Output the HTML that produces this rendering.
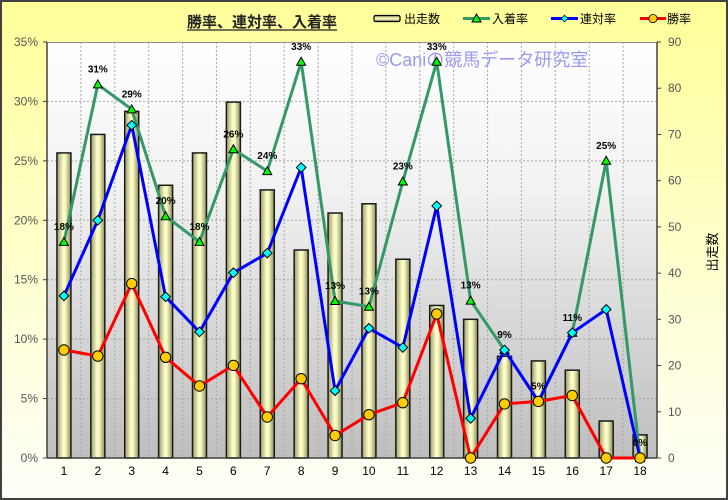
<!DOCTYPE html>
<html><head><meta charset="utf-8"><style>
html,body{margin:0;padding:0;width:728px;height:500px;overflow:hidden;background:#fff}
svg{display:block}
text{font-family:"Liberation Sans","Noto Sans CJK JP",sans-serif}
</style></head><body>
<svg width="728" height="500" viewBox="0 0 728 500" xmlns="http://www.w3.org/2000/svg">
<defs>
<linearGradient id="bg" x1="0" y1="0" x2="0" y2="1">
<stop offset="0" stop-color="#FFFF99"/><stop offset="0.55" stop-color="#FFFFD0"/><stop offset="1" stop-color="#FFFFFA"/>
</linearGradient>
<linearGradient id="pa" x1="0" y1="0" x2="0" y2="1">
<stop offset="0" stop-color="#FFFFFF"/><stop offset="0.35" stop-color="#F2F2F2"/><stop offset="1" stop-color="#BEBEBE"/>
</linearGradient>
<linearGradient id="bar" x1="0" y1="0" x2="1" y2="0">
<stop offset="0" stop-color="#9A9A68"/><stop offset="0.45" stop-color="#FFFFCC"/><stop offset="0.6" stop-color="#F8F8C0"/><stop offset="1" stop-color="#8C8C5A"/>
</linearGradient>
<linearGradient id="barL" x1="0" y1="0" x2="0" y2="1">
<stop offset="0" stop-color="#9A9A68"/><stop offset="0.5" stop-color="#FFFFCC"/><stop offset="1" stop-color="#8C8C5A"/>
</linearGradient>
<path id="tri" d="M0,-4.5 L4.5,3.5 L-4.5,3.5 Z" fill="#00FF00" stroke="#000" stroke-width="1"/>
<path id="dia" d="M0,-4.8 L4.8,0 L0,4.8 L-4.8,0 Z" fill="#00FFFF" stroke="#000" stroke-width="1"/>
<circle id="cir" r="5.2" fill="#FFCC00" stroke="#000" stroke-width="1"/>
</defs>
<rect x="0" y="0" width="728" height="500" fill="url(#bg)"/>
<rect x="1" y="1" width="726" height="498" fill="none" stroke="#404040" stroke-width="2"/>

<!-- title -->
<text x="262" y="27" font-size="15" font-weight="bold" fill="#222" text-anchor="middle">勝率、連対率、入着率</text>
<line x1="187" y1="30" x2="337" y2="30" stroke="#222" stroke-width="1.3"/>

<!-- legend -->
<rect x="374" y="15.5" width="26" height="6" rx="1.5" fill="url(#barL)" stroke="#000" stroke-width="1.2"/>
<text x="404" y="23" font-size="12" fill="#000">出走数</text>
<line x1="463" y1="18.5" x2="490" y2="18.5" stroke="#339966" stroke-width="3"/>
<use href="#tri" x="476.5" y="18.5"/>
<text x="492" y="23" font-size="12" fill="#000">入着率</text>
<line x1="551" y1="18.5" x2="578" y2="18.5" stroke="#0000FF" stroke-width="3"/>
<use href="#dia" x="564.5" y="18.5" transform="translate(564.5,18.5) scale(0.7) translate(-564.5,-18.5)"/>
<text x="580" y="23" font-size="12" fill="#000">連対率</text>
<line x1="640" y1="18.5" x2="666" y2="18.5" stroke="#FF0000" stroke-width="3"/>
<use href="#cir" x="653" y="18.5" transform="translate(653,18.5) scale(0.8) translate(-653,-18.5)"/>
<text x="667" y="23" font-size="12" fill="#000">勝率</text>

<!-- plot area -->
<rect x="47" y="42" width="610" height="416" fill="url(#pa)"/>
<g stroke="#A8A8A8" stroke-width="1" stroke-dasharray="2,2" fill="none">
<line x1="47" y1="101.43" x2="657" y2="101.43"/>
<line x1="47" y1="160.86" x2="657" y2="160.86"/>
<line x1="47" y1="220.29" x2="657" y2="220.29"/>
<line x1="47" y1="279.71" x2="657" y2="279.71"/>
<line x1="47" y1="339.14" x2="657" y2="339.14"/>
<line x1="47" y1="398.57" x2="657" y2="398.57"/>
<line x1="80.89" y1="42" x2="80.89" y2="458"/>
<line x1="114.78" y1="42" x2="114.78" y2="458"/>
<line x1="148.67" y1="42" x2="148.67" y2="458"/>
<line x1="182.56" y1="42" x2="182.56" y2="458"/>
<line x1="216.44" y1="42" x2="216.44" y2="458"/>
<line x1="250.33" y1="42" x2="250.33" y2="458"/>
<line x1="284.22" y1="42" x2="284.22" y2="458"/>
<line x1="318.11" y1="42" x2="318.11" y2="458"/>
<line x1="352" y1="42" x2="352" y2="458"/>
<line x1="385.89" y1="42" x2="385.89" y2="458"/>
<line x1="419.78" y1="42" x2="419.78" y2="458"/>
<line x1="453.67" y1="42" x2="453.67" y2="458"/>
<line x1="487.56" y1="42" x2="487.56" y2="458"/>
<line x1="521.44" y1="42" x2="521.44" y2="458"/>
<line x1="555.33" y1="42" x2="555.33" y2="458"/>
<line x1="589.22" y1="42" x2="589.22" y2="458"/>
<line x1="623.11" y1="42" x2="623.11" y2="458"/>
</g>
<line x1="47" y1="42.5" x2="657" y2="42.5" stroke="#909090" stroke-width="1"/>

<!-- bars -->
<g fill="url(#bar)" stroke="#1a1a1a" stroke-width="1.5">
<rect x="56.94" y="152.93" width="14" height="305.07"/>
<rect x="90.83" y="134.44" width="14" height="323.56"/>
<rect x="124.72" y="111.33" width="14" height="346.67"/>
<rect x="158.61" y="185.29" width="14" height="272.71"/>
<rect x="192.5" y="152.93" width="14" height="305.07"/>
<rect x="226.39" y="102.09" width="14" height="355.91"/>
<rect x="260.28" y="189.91" width="14" height="268.09"/>
<rect x="294.17" y="250" width="14" height="208"/>
<rect x="328.06" y="213.02" width="14" height="244.98"/>
<rect x="361.94" y="203.78" width="14" height="254.22"/>
<rect x="395.83" y="259.24" width="14" height="198.76"/>
<rect x="429.72" y="305.47" width="14" height="152.53"/>
<rect x="463.61" y="319.33" width="14" height="138.67"/>
<rect x="497.5" y="356.31" width="14" height="101.69"/>
<rect x="531.39" y="360.93" width="14" height="97.07"/>
<rect x="565.28" y="370.18" width="14" height="87.82"/>
<rect x="599.17" y="421.02" width="14" height="36.98"/>
<rect x="633.06" y="434.89" width="14" height="23.11"/>
</g>

<!-- watermark -->
<text x="376" y="66" font-size="18" fill="#9A9AF5">©Caniの競馬データ研究室</text>

<!-- axes -->
<line x1="47" y1="42" x2="47" y2="458" stroke="#404040" stroke-width="1.5"/>
<line x1="657" y1="42" x2="657" y2="458" stroke="#404040" stroke-width="1.5"/>
<line x1="47" y1="458" x2="657" y2="458" stroke="#404040" stroke-width="1.5"/>
<g stroke="#404040" stroke-width="1">
<line x1="43" y1="42" x2="47" y2="42"/><line x1="43" y1="101.43" x2="47" y2="101.43"/><line x1="43" y1="160.86" x2="47" y2="160.86"/><line x1="43" y1="220.29" x2="47" y2="220.29"/><line x1="43" y1="279.71" x2="47" y2="279.71"/><line x1="43" y1="339.14" x2="47" y2="339.14"/><line x1="43" y1="398.57" x2="47" y2="398.57"/><line x1="43" y1="458" x2="47" y2="458"/>
<line x1="657" y1="42" x2="661" y2="42"/><line x1="657" y1="88.22" x2="661" y2="88.22"/><line x1="657" y1="134.44" x2="661" y2="134.44"/><line x1="657" y1="180.67" x2="661" y2="180.67"/><line x1="657" y1="226.89" x2="661" y2="226.89"/><line x1="657" y1="273.11" x2="661" y2="273.11"/><line x1="657" y1="319.33" x2="661" y2="319.33"/><line x1="657" y1="365.56" x2="661" y2="365.56"/><line x1="657" y1="411.78" x2="661" y2="411.78"/><line x1="657" y1="458" x2="661" y2="458"/>
</g>

<!-- series lines -->
<polyline fill="none" stroke="#339966" stroke-width="3" stroke-linejoin="round" points="63.94,241.9 97.83,84.4 131.72,109.4 165.61,216.2 199.5,241.9 233.39,149.3 267.28,171.1 301.17,61.8 335.06,301.0 368.94,306.7 402.83,181.5 436.72,61.8 470.61,300.6 504.5,350.0 538.39,401.4 572.28,332.8 606.17,160.8 640.06,458"/>
<g>
<use href="#tri" x="63.94" y="241.9"/><use href="#tri" x="97.83" y="84.4"/><use href="#tri" x="131.72" y="109.4"/><use href="#tri" x="165.61" y="216.2"/><use href="#tri" x="199.5" y="241.9"/><use href="#tri" x="233.39" y="149.3"/><use href="#tri" x="267.28" y="171.1"/><use href="#tri" x="301.17" y="61.8"/><use href="#tri" x="335.06" y="301.0"/><use href="#tri" x="368.94" y="306.7"/><use href="#tri" x="402.83" y="181.5"/><use href="#tri" x="436.72" y="61.8"/><use href="#tri" x="470.61" y="300.6"/><use href="#tri" x="504.5" y="350.0"/><use href="#tri" x="538.39" y="401.4"/><use href="#tri" x="572.28" y="332.8"/><use href="#tri" x="606.17" y="160.8"/><use href="#tri" x="640.06" y="458"/>
</g>
<polyline fill="none" stroke="#0000FF" stroke-width="3" stroke-linejoin="round" points="63.94,295.9 97.83,220.3 131.72,125.2 165.61,296.8 199.5,331.9 233.39,272.8 267.28,253.1 301.17,167.5 335.06,390.7 368.94,328.3 402.83,347.5 436.72,205.9 470.61,418.4 504.5,350.0 538.39,401.4 572.28,332.8 606.17,309.4 640.06,458"/>
<g>
<use href="#dia" x="63.94" y="295.9"/><use href="#dia" x="97.83" y="220.3"/><use href="#dia" x="131.72" y="125.2"/><use href="#dia" x="165.61" y="296.8"/><use href="#dia" x="199.5" y="331.9"/><use href="#dia" x="233.39" y="272.8"/><use href="#dia" x="267.28" y="253.1"/><use href="#dia" x="301.17" y="167.5"/><use href="#dia" x="335.06" y="390.7"/><use href="#dia" x="368.94" y="328.3"/><use href="#dia" x="402.83" y="347.5"/><use href="#dia" x="436.72" y="205.9"/><use href="#dia" x="470.61" y="418.4"/><use href="#dia" x="504.5" y="350.0"/><use href="#dia" x="538.39" y="401.4"/><use href="#dia" x="572.28" y="332.8"/><use href="#dia" x="606.17" y="309.4"/><use href="#dia" x="640.06" y="458"/>
</g>
<polyline fill="none" stroke="#FF0000" stroke-width="3" stroke-linejoin="round" points="63.94,350.0 97.83,356.1 131.72,283.6 165.61,357.3 199.5,386.0 233.39,365.4 267.28,417.0 301.17,378.7 335.06,435.5 368.94,414.7 402.83,402.7 436.72,313.9 470.61,458 504.5,403.9 538.39,401.4 572.28,395.5 606.17,458 640.06,458"/>
<g>
<use href="#cir" x="63.94" y="350.0"/><use href="#cir" x="97.83" y="356.1"/><use href="#cir" x="131.72" y="283.6"/><use href="#cir" x="165.61" y="357.3"/><use href="#cir" x="199.5" y="386.0"/><use href="#cir" x="233.39" y="365.4"/><use href="#cir" x="267.28" y="417.0"/><use href="#cir" x="301.17" y="378.7"/><use href="#cir" x="335.06" y="435.5"/><use href="#cir" x="368.94" y="414.7"/><use href="#cir" x="402.83" y="402.7"/><use href="#cir" x="436.72" y="313.9"/><use href="#cir" x="470.61" y="458"/><use href="#cir" x="504.5" y="403.9"/><use href="#cir" x="538.39" y="401.4"/><use href="#cir" x="572.28" y="395.5"/><use href="#cir" x="606.17" y="458"/><use href="#cir" x="640.06" y="458"/>
</g>

<!-- data labels -->
<g font-size="10" font-weight="bold" fill="#000" text-anchor="middle">
<text x="63.94" y="229.9">18%</text><text x="97.83" y="72.4">31%</text><text x="131.72" y="97.4">29%</text><text x="165.61" y="204.2">20%</text><text x="199.5" y="229.9">18%</text><text x="233.39" y="137.3">26%</text><text x="267.28" y="159.1">24%</text><text x="301.17" y="49.8">33%</text><text x="335.06" y="289.0">13%</text><text x="368.94" y="294.7">13%</text><text x="402.83" y="169.5">23%</text><text x="436.72" y="49.8">33%</text><text x="470.61" y="288.6">13%</text><text x="504.5" y="338.0">9%</text><text x="538.39" y="389.4">5%</text><text x="572.28" y="320.8">11%</text><text x="606.17" y="148.8">25%</text><text x="640.06" y="446">0%</text>
</g>

<!-- left axis labels -->
<g font-size="12" fill="#555" text-anchor="end">
<text x="38" y="46">35%</text><text x="38" y="105.4">30%</text><text x="38" y="164.9">25%</text><text x="38" y="224.3">20%</text><text x="38" y="283.7">15%</text><text x="38" y="343.1">10%</text><text x="38" y="402.6">5%</text><text x="38" y="462">0%</text>
</g>
<!-- right axis labels -->
<g font-size="12" fill="#555" text-anchor="start">
<text x="668" y="46">90</text><text x="668" y="92.2">80</text><text x="668" y="138.4">70</text><text x="668" y="184.7">60</text><text x="668" y="230.9">50</text><text x="668" y="277.1">40</text><text x="668" y="323.3">30</text><text x="668" y="369.6">20</text><text x="668" y="415.8">10</text><text x="668" y="462">0</text>
</g>
<text x="0" y="0" font-size="13" fill="#000" text-anchor="middle" transform="translate(717,252) rotate(-90)">出走数</text>

<!-- category labels -->
<g font-size="12" fill="#000" text-anchor="middle">
<text x="63.94" y="475">1</text><text x="97.83" y="475">2</text><text x="131.72" y="475">3</text><text x="165.61" y="475">4</text><text x="199.5" y="475">5</text><text x="233.39" y="475">6</text><text x="267.28" y="475">7</text><text x="301.17" y="475">8</text><text x="335.06" y="475">9</text><text x="368.94" y="475">10</text><text x="402.83" y="475">11</text><text x="436.72" y="475">12</text><text x="470.61" y="475">13</text><text x="504.5" y="475">14</text><text x="538.39" y="475">15</text><text x="572.28" y="475">16</text><text x="606.17" y="475">17</text><text x="640.06" y="475">18</text>
</g>
</svg>
</body></html>
